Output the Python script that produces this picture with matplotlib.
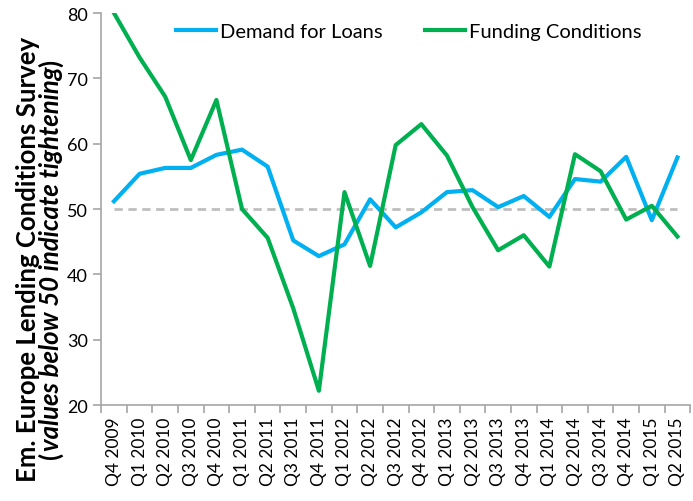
import matplotlib
matplotlib.use("Agg")
import matplotlib.pyplot as plt
import numpy as np

quarters = ["Q4 2009", "Q1 2010", "Q2 2010", "Q3 2010", "Q4 2010", "Q1 2011",
            "Q2 2011", "Q3 2011", "Q4 2011", "Q1 2012", "Q2 2012", "Q3 2012",
            "Q4 2012", "Q1 2013", "Q2 2013", "Q3 2013", "Q4 2013", "Q1 2014",
            "Q2 2014", "Q3 2014", "Q4 2014", "Q1 2015", "Q2 2015"]
demand = [51.2, 55.4, 56.3, 56.3, 58.3, 59.1, 56.5, 45.2, 42.8, 44.6, 51.5, 47.2,
          49.5, 52.6, 52.9, 50.3, 52.0, 48.8, 54.6, 54.2, 58.0, 48.3, 57.9]
funding = [80.0, 73.2, 67.2, 57.5, 66.7, 50.0, 45.6, 34.8, 22.2, 52.6, 41.3, 59.8,
           63.0, 58.2, 50.3, 43.7, 46.0, 41.2, 58.4, 55.8, 48.4, 50.5, 45.8]
threshold = [50] * len(quarters)

plt.rcParams['font.family'] = ['Lato', 'DejaVu Sans']

fig = plt.figure(figsize=(6.93, 5.02), dpi=100)
ax = fig.add_axes([0.146, 0.191, 0.85, 0.781])

x = np.arange(len(quarters))
ax.plot(x, threshold, color="#BFBFBF", lw=2, ls=(0, (3, 2)), zorder=1)
ax.plot(x, demand, color="#00B0F0", lw=3, label="Demand for Loans", zorder=2)
ax.plot(x, funding, color="#00B050", lw=3, label="Funding Conditions", zorder=3)

ax.set_xlim(-0.5, len(quarters) - 0.5)
ax.set_ylim(20, 80)
ax.set_yticks(range(20, 81, 10))
ax.set_xticks(x)
ax.set_xticklabels(quarters, rotation=90, fontsize=12.5)
ax.set_xticks(np.arange(-0.5, len(quarters)), minor=True)
ax.tick_params(axis="x", which="major", length=0, pad=8)
ax.tick_params(axis="x", which="minor", length=6, color="#A6A6A6", width=1.2)
ax.tick_params(axis="y", length=6, color="#A6A6A6", width=1.2, labelsize=13)
for s in ["top", "right"]:
    ax.spines[s].set_visible(False)
for s in ["left", "bottom"]:
    ax.spines[s].set_color("#A6A6A6")
    ax.spines[s].set_linewidth(1.2)

ax.legend(loc="upper center", ncol=2, frameon=False, fontsize=14.5,
          bbox_to_anchor=(0.522, 1.02), handlelength=2.0, handletextpad=0.2,
          columnspacing=2.1)

# y label, two lines, second line italic inside upright parens
fs = 18.5
fig.text(0.040, 0.484, "Em. Europe Lending Conditions Survey", rotation=90,
         ha="center", va="center", fontsize=fs, fontweight="bold")

fig.canvas.draw()
r = fig.canvas.get_renderer()
parts = [("(", "normal"), ("values below 50 indicate tightening", "italic"), (")", "normal")]
tmp = []
for txt, st in parts:
    t = fig.text(0, 0, txt, rotation=90, fontsize=fs, fontweight="bold", fontstyle=st)
    tmp.append(t)
heights = [t.get_window_extent(r).height / fig.bbox.height for t in tmp]
total = sum(heights)
y0 = 0.484 - total / 2
for t, h in zip(tmp, heights):
    t.set_position((0.073, y0))
    t.set_ha("center")
    t.set_va("bottom")
    y0 += h

fig.savefig("out.png", dpi=100)
